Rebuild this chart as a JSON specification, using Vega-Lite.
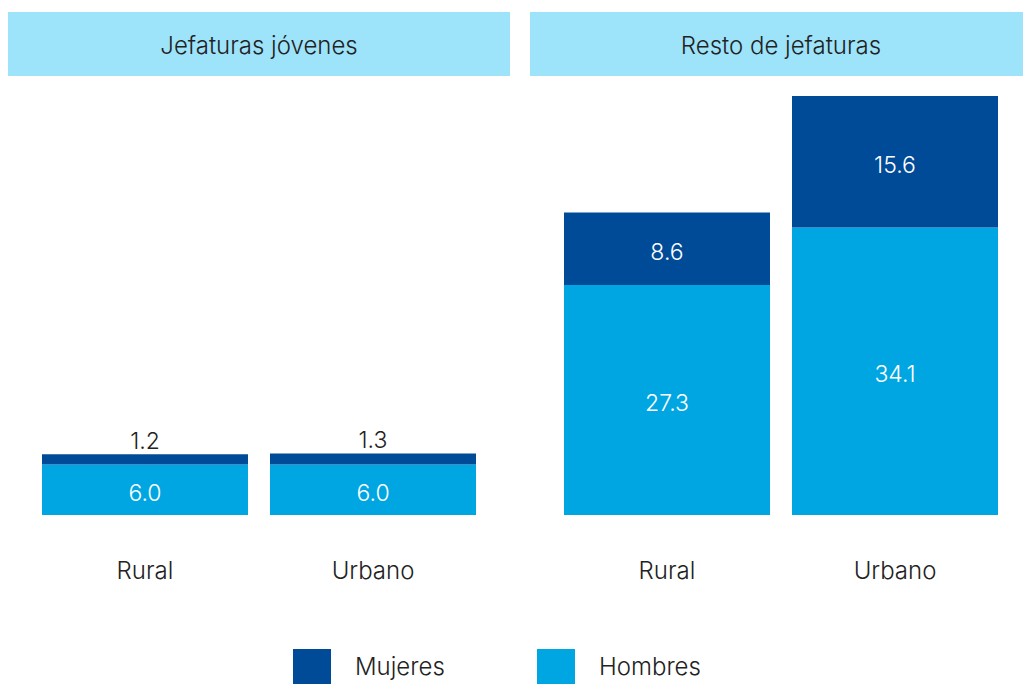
{
  "$schema": "https://vega.github.io/schema/vega-lite/v6.json",
  "padding": {"left": 8, "top": 12, "right": 0, "bottom": 0},
  "background": "white",
  "config": {"view": {"stroke": null}, "font": "Inter", "text": {"font": "Inter"}},
  "datasets": {
    "d": [
      {"grupo": "Jefaturas jóvenes", "area": "Rural", "sexo": "Hombres", "valor": 6.0},
      {"grupo": "Jefaturas jóvenes", "area": "Rural", "sexo": "Mujeres", "valor": 1.2},
      {"grupo": "Jefaturas jóvenes", "area": "Urbano", "sexo": "Hombres", "valor": 6.0},
      {"grupo": "Jefaturas jóvenes", "area": "Urbano", "sexo": "Mujeres", "valor": 1.3},
      {"grupo": "Resto de jefaturas", "area": "Rural", "sexo": "Hombres", "valor": 27.3},
      {"grupo": "Resto de jefaturas", "area": "Rural", "sexo": "Mujeres", "valor": 8.6},
      {"grupo": "Resto de jefaturas", "area": "Urbano", "sexo": "Hombres", "valor": 34.1},
      {"grupo": "Resto de jefaturas", "area": "Urbano", "sexo": "Mujeres", "valor": 15.6}
    ],
    "grupos": [{"grupo": "Jefaturas jóvenes"}, {"grupo": "Resto de jefaturas"}]
  },
  "spacing": 20,
  "hconcat": [
    {
      "spacing": 0,
      "vconcat": [
        {
          "width": 502, "height": 64,
          "view": {"fill": "#9de4fb", "stroke": null},
          "data": {"name": "grupos"},
          "transform": [{"filter": "datum.grupo == 'Jefaturas jóvenes'"}],
          "mark": {"type": "text", "fontSize": 24, "fontWeight": 300, "color": "#222222", "baseline": "middle", "align": "center", "dy": 3},
          "encoding": {"text": {"field": "grupo"}}
        },
        {
          "width": 502, "height": 439,
          "data": {"name": "d"},
          "transform": [
            {"filter": "datum.grupo == 'Jefaturas jóvenes'"},
            {"stack": "valor", "groupby": ["area"], "sort": [{"field": "sexo", "order": "ascending"}], "as": ["v0", "v1"]},
            {"calculate": "(datum.v0 + datum.v1) / 2", "as": "mid"}
          ],
          "encoding": {
            "x": {"field": "area", "type": "nominal", "title": null,
              "scale": {"range": [34, 468], "paddingInner": 0.0965, "paddingOuter": 0},
              "axis": {"labelAngle": 0, "ticks": false, "domain": false, "labelFontSize": 24, "labelFontWeight": 300, "labelPadding": 44, "labelColor": "#222222"}}
          },
          "layer": [
            {
              "mark": {"type": "bar"},
              "encoding": {
                "y": {"field": "v1", "type": "quantitative", "scale": {"domain": [0, 52.08], "nice": false}, "axis": null},
                "y2": {"field": "v0"},
                "color": {"field": "sexo", "type": "nominal",
                  "scale": {"domain": ["Mujeres", "Hombres"], "range": ["#004b98", "#00a6e2"]},
                  "legend": {"title": null, "orient": "none", "legendX": 285, "legendY": 637, "direction": "horizontal",
                    "symbolType": "square", "symbolSize": 1444, "symbolStrokeWidth": 0, "symbolOpacity": 1,
                    "labelFontSize": 24, "labelFontWeight": 300, "labelOffset": 24, "columnPadding": 92, "labelColor": "#222222"}}
              }
            },
            {
              "transform": [{"filter": "datum.v1 - datum.v0 >= 3"}],
              "mark": {"type": "text", "fontSize": 23, "fontWeight": 300, "color": "white", "baseline": "middle", "dy": 4},
              "encoding": {
                "y": {"field": "mid", "type": "quantitative", "scale": {"domain": [0, 52.08], "nice": false}, "axis": null},
                "text": {"field": "valor", "type": "quantitative", "format": ".1f"}
              }
            },
            {
              "transform": [{"filter": "datum.v1 - datum.v0 < 3"}],
              "mark": {"type": "text", "fontSize": 23, "fontWeight": 300, "color": "#222222", "baseline": "alphabetic", "dy": -5},
              "encoding": {
                "y": {"field": "v1", "type": "quantitative", "scale": {"domain": [0, 52.08], "nice": false}, "axis": null},
                "text": {"field": "valor", "type": "quantitative", "format": ".1f"}
              }
            }
          ]
        }
      ]
    },
    {
      "spacing": 0,
      "vconcat": [
        {
          "width": 493, "height": 64,
          "view": {"fill": "#9de4fb", "stroke": null},
          "data": {"name": "grupos"},
          "transform": [{"filter": "datum.grupo == 'Resto de jefaturas'"}],
          "mark": {"type": "text", "fontSize": 24, "fontWeight": 300, "color": "#222222", "baseline": "middle", "align": "center", "dx": 4.5, "dy": 3},
          "encoding": {"text": {"field": "grupo"}}
        },
        {
          "width": 493, "height": 439,
          "data": {"name": "d"},
          "transform": [
            {"filter": "datum.grupo == 'Resto de jefaturas'"},
            {"stack": "valor", "groupby": ["area"], "sort": [{"field": "sexo", "order": "ascending"}], "as": ["v0", "v1"]},
            {"calculate": "(datum.v0 + datum.v1) / 2", "as": "mid"}
          ],
          "encoding": {
            "x": {"field": "area", "type": "nominal", "title": null,
              "scale": {"range": [34, 468], "paddingInner": 0.0965, "paddingOuter": 0},
              "axis": {"labelAngle": 0, "ticks": false, "domain": false, "labelFontSize": 24, "labelFontWeight": 300, "labelPadding": 44, "labelColor": "#222222"}}
          },
          "layer": [
            {
              "mark": {"type": "bar"},
              "encoding": {
                "y": {"field": "v1", "type": "quantitative", "scale": {"domain": [0, 52.08], "nice": false}, "axis": null},
                "y2": {"field": "v0"},
                "color": {"field": "sexo", "type": "nominal",
                  "scale": {"domain": ["Mujeres", "Hombres"], "range": ["#004b98", "#00a6e2"]},
                  "legend": {"title": null, "orient": "none", "legendX": 285, "legendY": 637, "direction": "horizontal",
                    "symbolType": "square", "symbolSize": 1444, "symbolStrokeWidth": 0, "symbolOpacity": 1,
                    "labelFontSize": 24, "labelFontWeight": 300, "labelOffset": 24, "columnPadding": 92, "labelColor": "#222222"}}
              }
            },
            {
              "transform": [{"filter": "datum.v1 - datum.v0 >= 3"}],
              "mark": {"type": "text", "fontSize": 23, "fontWeight": 300, "color": "white", "baseline": "middle", "dy": 4},
              "encoding": {
                "y": {"field": "mid", "type": "quantitative", "scale": {"domain": [0, 52.08], "nice": false}, "axis": null},
                "text": {"field": "valor", "type": "quantitative", "format": ".1f"}
              }
            },
            {
              "transform": [{"filter": "datum.v1 - datum.v0 < 3"}],
              "mark": {"type": "text", "fontSize": 23, "fontWeight": 300, "color": "#222222", "baseline": "alphabetic", "dy": -5},
              "encoding": {
                "y": {"field": "v1", "type": "quantitative", "scale": {"domain": [0, 52.08], "nice": false}, "axis": null},
                "text": {"field": "valor", "type": "quantitative", "format": ".1f"}
              }
            }
          ]
        }
      ]
    }
  ],
  "resolve": {"scale": {"color": "shared"}}
}
